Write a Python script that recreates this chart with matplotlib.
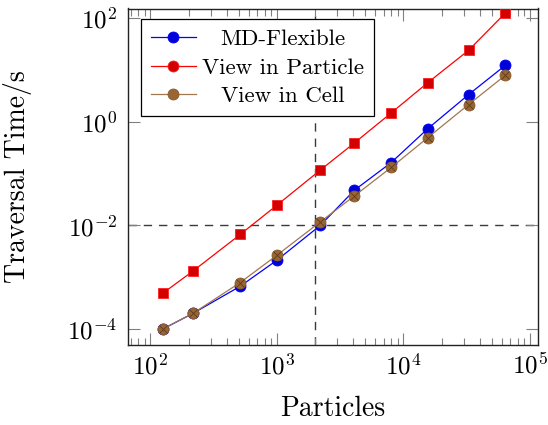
import numpy as np
import matplotlib
matplotlib.use("Agg")
import matplotlib.pyplot as plt
from matplotlib.lines import Line2D

plt.rcParams['font.family'] = 'serif'
plt.rcParams['font.serif'] = ['cmr10']
plt.rcParams['mathtext.fontset'] = 'cm'
plt.rcParams['axes.formatter.use_mathtext'] = True
plt.rcParams['axes.unicode_minus'] = False

# particle counts (cubes) and traversal times in seconds
particles = [125, 216, 512, 1000, 2197, 4096, 8000, 15625, 32768, 64000]
md_flexible = [1.0e-4, 2.0e-4, 6.7e-4, 2.14e-3, 1.0e-2, 0.048, 0.164, 0.745, 3.38, 12.4]
view_particle = [4.9e-4, 1.31e-3, 6.7e-3, 0.0247, 0.117, 0.393, 1.49, 5.76, 24.2, 127]
view_cell = [1.0e-4, 2.0e-4, 7.9e-4, 2.67e-3, 0.0117, 0.0373, 0.132, 0.5, 2.17, 7.97]
labels = ['MD-Flexible', 'View in Particle', 'View in Cell']

crossover_x = 2000
crossover_y = 1e-2

fig = plt.figure(figsize=(5.48, 4.25), dpi=100)
ax = fig.add_axes([0.234, 0.188, 0.747, 0.792])

# guide lines through the crossover point
dash_kw = dict(color='#3a3a3a', lw=1.0, dashes=(6.0, 5.0), zorder=1)
ax.axvline(crossover_x, **dash_kw)
ax.axhline(crossover_y, **dash_kw)

ms = 7.9
styles = [
    dict(color='#0000ff', mfc='#0000d8', mec='#0000ff'),
    dict(color='#ff0000', mfc='#d40000', mec='#ff2020'),
    dict(color='#a07850', mfc='#996633', mec='#8a5a2a'),
]
ax.plot(particles, md_flexible, lw=0.9, marker='o', ms=ms, mew=0.6, zorder=3, **styles[0])
ax.plot(particles, view_particle, lw=0.9, marker='s', ms=ms, mew=0.6, zorder=3, **styles[1])
ax.plot(particles, view_cell, lw=0.9, marker='o', ms=ms, mew=0.6, zorder=4, **styles[2])
# crossed circle look for the cell markers
ax.plot(particles, view_cell, ls='none', marker='x', ms=5.5, mec='#5e3a18',
        mew=0.6, zorder=5)

ax.set_xscale('log')
ax.set_yscale('log')
ax.set_xlim(66.7, 1.15e5)
ax.set_ylim(4.9e-5, 155)

ax.set_yticks([1e-4, 1e-2, 1e0, 1e2])
ax.yaxis.set_minor_locator(matplotlib.ticker.NullLocator())
ax.xaxis.set_minor_locator(matplotlib.ticker.LogLocator(base=10, subs=np.arange(2, 10)))
ax.xaxis.set_minor_formatter(matplotlib.ticker.NullFormatter())

ax.tick_params(which='both', direction='in', top=True, right=True,
               color='#808080', width=0.8, labelsize=18)
ax.tick_params(which='major', length=8.5)
ax.tick_params(which='minor', length=5)
ax.tick_params(axis='x', pad=6)
ax.tick_params(axis='y', pad=8)

for sp in ax.spines.values():
    sp.set_linewidth(1.0)
    sp.set_color('#222222')

ax.set_xlabel('Particles', fontsize=20)
ax.set_ylabel('Traversal Time/s', fontsize=20)
ax.xaxis.set_label_coords(0.5, -0.15)
ax.yaxis.set_label_coords(-0.235, 0.5)

# legend entries all use round markers
handles = [Line2D([], [], lw=0.9, marker='o', ms=ms, mew=0.6, **s) for s in styles]
leg = ax.legend(handles, labels, loc='upper left', bbox_to_anchor=(0.031, 0.968),
                borderaxespad=0, fontsize=16.5, fancybox=False, framealpha=1,
                edgecolor='black', handlelength=2.0, handletextpad=0.25,
                borderpad=0.42, labelspacing=0.38)
leg.get_frame().set_linewidth(0.9)

# centre the legend entries in their column
fig.canvas.draw()
renderer = fig.canvas.get_renderer()
texts = leg.get_texts()
widths = [t.get_window_extent(renderer).width for t in texts]
wmax = max(widths)
for t, w in zip(texts, widths):
    t.set_position(((wmax - w) / 2, 0))

fig.savefig('out.png', dpi=100)
